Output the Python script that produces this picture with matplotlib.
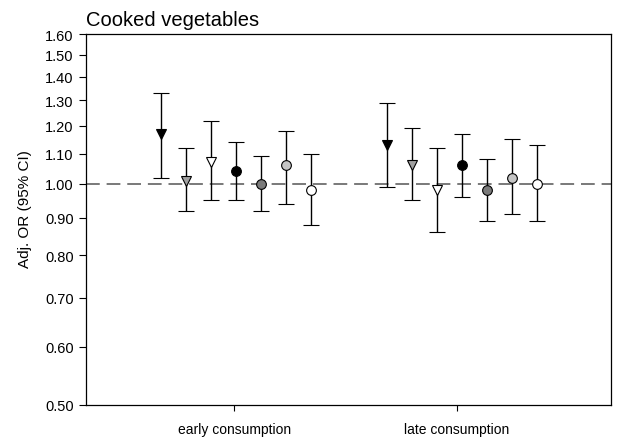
import numpy as np
import matplotlib.pyplot as plt
from matplotlib.ticker import FixedLocator, NullLocator, FormatStrFormatter

plt.rcParams['font.family'] = ['Liberation Sans', 'DejaVu Sans']

groups = ['early consumption', 'late consumption']

# seven estimates per group: OR, lower and upper 95% CI
or_early = [1.17, 1.01, 1.07, 1.04, 1.00, 1.06, 0.98]
lo_early = [1.02, 0.92, 0.95, 0.95, 0.92, 0.94, 0.88]
hi_early = [1.33, 1.12, 1.22, 1.14, 1.09, 1.18, 1.10]

or_late = [1.13, 1.06, 0.98, 1.06, 0.98, 1.02, 1.00]
lo_late = [0.99, 0.95, 0.86, 0.96, 0.89, 0.91, 0.89]
hi_late = [1.29, 1.19, 1.12, 1.17, 1.08, 1.15, 1.13]

markers = ['v', 'v', 'v', 'o', 'o', 'o', 'o']
fills = ['black', '#a0a0a0', 'white', 'black', '#7a7a7a', '#c4c4c4', 'white']

yticks = [0.5, 0.6, 0.7, 0.8, 0.9, 1.0, 1.1, 1.2, 1.3, 1.4, 1.5, 1.6]

fig = plt.figure(figsize=(6.19, 4.39), dpi=100)
ax = fig.add_axes([0.139, 0.0752, 0.848, 0.845])
ax.set_yscale('log')

ax.axhline(1.0, color='#555555', lw=1.1, dashes=(9, 4.5), zorder=1)

for g, (ors, los, his) in enumerate([(or_early, lo_early, hi_early),
                                     (or_late, lo_late, hi_late)]):
    for i in range(7):
        xpos = g + 1 + (i - 3) * 0.112 + (0.01 if g == 0 else 0.022)
        ax.errorbar(xpos, ors[i],
                    yerr=[[ors[i] - los[i]], [his[i] - ors[i]]],
                    fmt=markers[i], color='black', mfc=fills[i], mec='black',
                    ms=7, mew=0.8, ecolor='black', elinewidth=1.0,
                    capsize=5.5, capthick=1.0, zorder=3)

ax.set_xlim(0.336, 2.69)
ax.set_ylim(0.5, 1.6)
ax.set_xticks([1, 2])
ax.set_xticklabels(groups, fontsize=10)
ax.yaxis.set_major_locator(FixedLocator(yticks))
ax.yaxis.set_minor_locator(NullLocator())
ax.yaxis.set_major_formatter(FormatStrFormatter('%.2f'))
ax.tick_params(axis='y', labelsize=10.5, length=5, width=0.8, direction='out', pad=4)
ax.tick_params(axis='x', length=4, width=0.8, direction='out', pad=8)
for s in ax.spines.values():
    s.set_linewidth(0.9)

ax.set_ylabel('Adj. OR (95% CI)', fontsize=11)
ax.yaxis.set_label_coords(-0.103, 0.53)
ax.set_title('Cooked vegetables', loc='left', fontsize=14.5, pad=6.5)

fig.savefig('out.png', dpi=100)
